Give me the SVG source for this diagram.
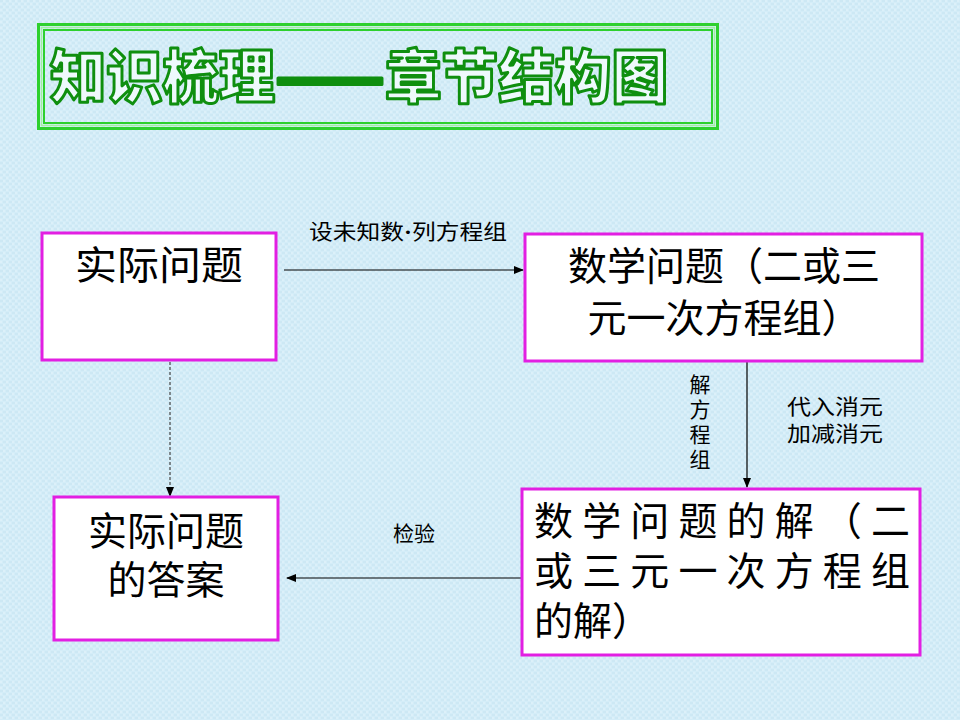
<svg xmlns="http://www.w3.org/2000/svg" width="960" height="720" viewBox="0 0 960 720">
<defs>
<marker id="ah" markerUnits="userSpaceOnUse" markerWidth="10" markerHeight="8" refX="9" refY="4" orient="auto">
<path d="M0,0 L10,4 L0,8 Z" fill="#000"/>
</marker>
<pattern id="tex" width="6" height="6" patternUnits="userSpaceOnUse">
<rect width="6" height="6" fill="#d4edf8"/>
<path d="M0,1 H3 M3,4 H6" stroke="#c6e3f0" stroke-width="1"/>
<path d="M1,3 V5 M4,0 V2" stroke="#e4f4fb" stroke-width="1"/>
</pattern>
</defs>
<style>
.box{fill:#ffffff;stroke:#e21fe2;stroke-width:3}
.big{font-family:"Noto Sans CJK SC","Noto Sans CJK JP",sans-serif;font-size:39px;fill:#000}
.lab{font-family:"Noto Sans CJK SC","Noto Sans CJK JP",sans-serif;font-size:21px;fill:#000}
.title{font-family:"Noto Sans CJK SC","Noto Sans CJK JP",sans-serif;font-size:58px;font-weight:900;fill:#eef9fc;stroke:#0f8f0f;stroke-width:3;stroke-linejoin:round}
.con{stroke:#000;stroke-width:1.2;fill:none}
</style>
<rect width="960" height="720" fill="url(#tex)"/>

<g id="title">
<rect x="38.5" y="24.5" width="679" height="104" fill="none" stroke="#2ed02e" stroke-width="3"/>
<rect x="41.5" y="27.5" width="673" height="98" fill="none" stroke="#a2f0a2" stroke-width="1.5"/>
<rect x="44" y="30" width="668" height="93" fill="none" stroke="#2ed02e" stroke-width="2"/>
<text class="title" y="98"><tspan x="50" textLength="225" lengthAdjust="spacingAndGlyphs">知识梳理</tspan><tspan x="275" textLength="110" lengthAdjust="spacingAndGlyphs" fill="#0f8f0f">——</tspan><tspan x="385" textLength="283" lengthAdjust="spacingAndGlyphs">章节结构图</tspan></text>
</g>

<g id="connectors">
<line class="con" x1="284" y1="270" x2="523" y2="270" marker-end="url(#ah)"/>
<line class="con" x1="747" y1="362" x2="747" y2="487" marker-end="url(#ah)"/>
<line x1="170" y1="362" x2="170" y2="496" stroke="#444" stroke-width="1.2" stroke-dasharray="3,2" marker-end="url(#ah)"/>
<line class="con" x1="522" y1="578" x2="287" y2="578" marker-end="url(#ah)"/>
<text class="lab" x="309" y="239" textLength="198" lengthAdjust="spacingAndGlyphs">设未知数<tspan font-family="Liberation Serif, serif" font-weight="bold">·</tspan>列方程组</text>
<text class="lab" x="700" y="374" writing-mode="vertical-rl" letter-spacing="4">解方程组</text>
<text class="lab" x="787" y="414" textLength="96" lengthAdjust="spacingAndGlyphs">代入消元</text>
<text class="lab" x="787" y="441" textLength="96" lengthAdjust="spacingAndGlyphs">加减消元</text>
<text class="lab" x="393" y="541">检验</text>
</g>

<g id="n1">
<rect class="box" x="42" y="233" width="234" height="127"/>
<text class="big" x="75" y="279" textLength="168" lengthAdjust="spacingAndGlyphs">实际问题</text>
</g>

<g id="n2">
<rect class="box" x="525" y="234" width="397" height="127"/>
<text class="big" text-anchor="middle"><tspan x="724" y="280">数学问题（二或三</tspan><tspan x="724" y="332">元一次方程组）</tspan></text>
</g>

<g id="n3">
<rect class="box" x="522" y="489" width="398" height="166"/>
<text class="big"><tspan x="534" y="535" textLength="376" lengthAdjust="spacing">数学问题的解（二</tspan><tspan x="534" y="585" textLength="376" lengthAdjust="spacing">或三元一次方程组</tspan><tspan x="534" y="635">的解）</tspan></text>
</g>

<g id="n4">
<rect class="box" x="54" y="497" width="224" height="143"/>
<text class="big" text-anchor="middle"><tspan x="166" y="545">实际问题</tspan><tspan x="166" y="594">的答案</tspan></text>
</g>
</svg>
